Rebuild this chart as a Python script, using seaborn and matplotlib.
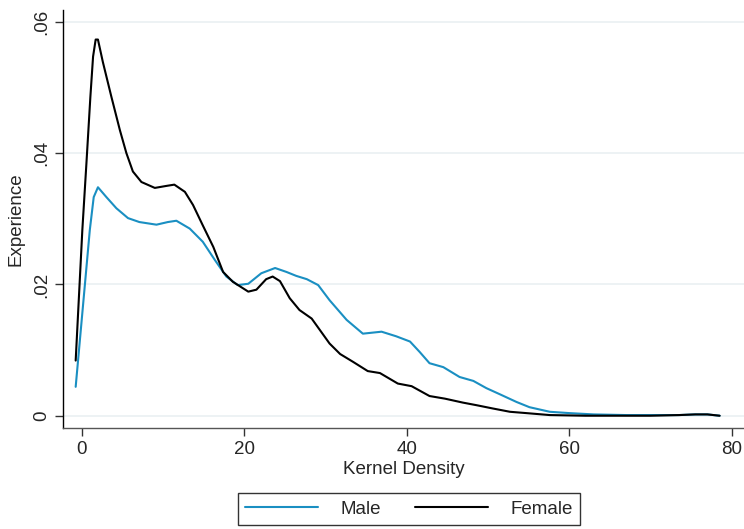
import numpy as np
import pandas as pd
import seaborn as sns
import matplotlib
matplotlib.use('Agg')
import matplotlib.pyplot as plt

# valores
male_x = [-0.74, 1.0, 1.48, 2.0, 3.04, 4.27, 5.7, 7.1, 9.2, 10.6, 11.65, 13.3, 14.9,
          16.4, 17.8, 19.2, 20.5, 22.1, 23.8, 25.2, 26.4, 27.7, 29.1, 30.5, 32.6,
          34.6, 36.9, 38.7, 40.4, 41.6, 42.8, 44.5, 46.5, 48.2, 49.8, 51.4, 53.5,
          55.1, 57.6, 60.0, 63.0, 67.0, 71.0, 73.5, 75.5, 77.0, 78.5]
male_y = [0.0044, 0.0283, 0.0333, 0.0348, 0.0333, 0.0316, 0.0301, 0.0295, 0.0291,
          0.0295, 0.0297, 0.0285, 0.0265, 0.0237, 0.0212, 0.0199, 0.0201, 0.0217,
          0.0225, 0.0219, 0.0213, 0.0208, 0.0199, 0.0176, 0.0146, 0.0125, 0.0128,
          0.0121, 0.0113, 0.0097, 0.0080, 0.0074, 0.0059, 0.0053, 0.0042, 0.0033,
          0.0021, 0.0013, 0.0006, 0.0004, 0.0002, 0.0001, 0.0001, 0.0001, 0.0002,
          0.0002, 0.0000]

female_x = [-0.74, 0.08, 0.58, 1.07, 1.4, 1.72, 2.0, 2.6, 3.65, 4.7, 5.5, 6.3, 7.35,
            9.0, 10.4, 11.4, 12.7, 13.7, 14.9, 16.2, 17.4, 18.6, 20.5, 21.5, 22.7,
            23.5, 24.4, 25.6, 26.8, 28.3, 30.5, 31.8, 33.4, 35.2, 36.7, 38.9, 40.6,
            42.8, 44.7, 46.9, 48.6, 50.6, 52.7, 54.7, 57.6, 62.0, 70.0, 73.5, 75.5,
            77.0, 78.5]
female_y = [0.0084, 0.0283, 0.0384, 0.0486, 0.0547, 0.0573, 0.0573, 0.0539, 0.0486,
            0.0435, 0.0400, 0.0372, 0.0356, 0.0347, 0.0350, 0.0352, 0.0341, 0.0321,
            0.0290, 0.0257, 0.0219, 0.0204, 0.0189, 0.0192, 0.0208, 0.0212, 0.0205,
            0.0179, 0.0161, 0.0148, 0.0110, 0.0094, 0.0082, 0.0068, 0.0065, 0.0049,
            0.0045, 0.0030, 0.0026, 0.0020, 0.0016, 0.0011, 0.0006, 0.0004, 0.0001,
            0.0000, 0.0000, 0.0001, 0.0002, 0.0002, 0.0000]

y_ticks = [0, 0.02, 0.04, 0.06]
y_labels = ['0', '.02', '.04', '.06']
x_ticks = [0, 20, 40, 60, 80]

df = pd.concat([
    pd.DataFrame({'x': male_x, 'y': male_y, 'grupo': 'Male'}),
    pd.DataFrame({'x': female_x, 'y': female_y, 'grupo': 'Female'}),
])

sns.set_style('white')
plt.rcParams['font.family'] = ['Liberation Sans', 'DejaVu Sans']

fig = plt.figure(figsize=(7.44, 5.29), dpi=100)
ax = fig.add_axes([63 / 744, 101 / 529, 1 - 63 / 744, 418 / 529])

sns.lineplot(data=df, x='x', y='y', hue='grupo', sort=False,
             palette={'Male': '#1a8fc2', 'Female': '#000000'},
             linewidth=1.5, ax=ax, legend=False)

for t in y_ticks:
    ax.axhline(t, color='#eaf0f2', linewidth=1.2, zorder=0)

ax.set_xlim(-2.3, 81.5)
ax.set_ylim(-0.00187, 0.0618)
ax.set_xticks(x_ticks)
ax.set_yticks(y_ticks)
ax.set_yticklabels(y_labels, rotation=90, va='center')
ax.tick_params(axis='both', direction='out', length=6, width=1, color='#333333',
               labelsize=13.5, left=True, bottom=True)
ax.set_xlabel('Kernel Density', fontsize=13.5, labelpad=2)
ax.set_ylabel('Experience', fontsize=13.5, labelpad=6)

for s in ['top', 'right']:
    ax.spines[s].set_visible(False)
ax.spines['left'].set_color('#000000')
ax.spines['bottom'].set_color('#555555')
ax.spines['left'].set_linewidth(1)
ax.spines['bottom'].set_linewidth(1)

handles = [plt.Line2D([], [], color='#1a8fc2', linewidth=1.5),
           plt.Line2D([], [], color='#000000', linewidth=1.5)]
leg = fig.legend(handles, ['Male', 'Female'], ncol=2, loc='center',
                 bbox_to_anchor=(409 / 744, 1 - 509 / 529), fontsize=13.5,
                 frameon=True, fancybox=False, handlelength=3.9,
                 columnspacing=1.8, borderpad=0.4, handletextpad=1.2)
leg.get_frame().set_edgecolor('#000000')
leg.get_frame().set_linewidth(1)

fig.savefig('out.png', dpi=100)
